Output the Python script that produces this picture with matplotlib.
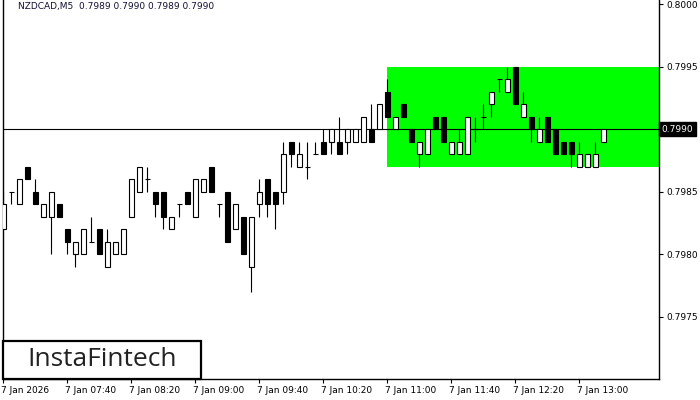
import matplotlib
matplotlib.use("Agg")
import matplotlib.pyplot as plt
from matplotlib.patches import Rectangle
import matplotlib.transforms as mtransforms

## NZDCAD M5 candles, 07:00 .. 13:15
opens = [0.7982, 0.7985, 0.7984, 0.7987, 0.7985, 0.7983, 0.7983, 0.7984, 0.7982, 0.7980,
         0.7980, 0.7981, 0.7982, 0.7979, 0.7980, 0.7980, 0.7983, 0.7985, 0.7986, 0.7985,
         0.7985, 0.7982, 0.7984, 0.7985, 0.7983, 0.7985, 0.7987, 0.7984, 0.7985, 0.7982,
         0.7983, 0.7979, 0.7984, 0.7986, 0.7985, 0.7985, 0.7989, 0.7987, 0.7987, 0.7988,
         0.7989, 0.7989, 0.7989, 0.7989, 0.7989, 0.7989, 0.7990, 0.7990, 0.7993, 0.7990,
         0.7992, 0.7990, 0.7988, 0.7988, 0.7991, 0.7991, 0.7988, 0.7988, 0.7988, 0.7990,
         0.7991, 0.7992, 0.7994, 0.7993, 0.7995, 0.7991, 0.7991, 0.7989, 0.7991, 0.7990,
         0.7989, 0.7989, 0.7987, 0.7987, 0.7987, 0.7989]
highs = [0.7985, 0.7985, 0.7986, 0.7987, 0.7986, 0.7984, 0.7985, 0.7984, 0.7982, 0.7981,
         0.7982, 0.7983, 0.7982, 0.7982, 0.7981, 0.7982, 0.7986, 0.7987, 0.7987, 0.7985,
         0.7985, 0.7983, 0.7984, 0.7985, 0.7986, 0.7986, 0.7987, 0.7984, 0.7985, 0.7984,
         0.7983, 0.7983, 0.7986, 0.7986, 0.7985, 0.7989, 0.7989, 0.7989, 0.7989, 0.7989,
         0.7990, 0.7990, 0.7991, 0.7990, 0.7990, 0.7991, 0.7992, 0.7992, 0.7994, 0.7991,
         0.7992, 0.7990, 0.7989, 0.7990, 0.7991, 0.7991, 0.7989, 0.7990, 0.7991, 0.7991,
         0.7992, 0.7993, 0.7994, 0.7995, 0.7995, 0.7993, 0.7991, 0.7991, 0.7991, 0.7990,
         0.7989, 0.7989, 0.7989, 0.7988, 0.7989, 0.7990]
lows = [0.7982, 0.7984, 0.7984, 0.7986, 0.7984, 0.7983, 0.7980, 0.7983, 0.7980, 0.7979,
        0.7980, 0.7981, 0.7980, 0.7979, 0.7980, 0.7980, 0.7983, 0.7985, 0.7985, 0.7983,
        0.7982, 0.7982, 0.7983, 0.7984, 0.7983, 0.7985, 0.7985, 0.7983, 0.7981, 0.7982,
        0.7980, 0.7977, 0.7983, 0.7983, 0.7982, 0.7984, 0.7987, 0.7987, 0.7986, 0.7988,
        0.7988, 0.7988, 0.7988, 0.7988, 0.7989, 0.7989, 0.7989, 0.7990, 0.7991, 0.7990,
        0.7991, 0.7989, 0.7987, 0.7988, 0.7990, 0.7989, 0.7988, 0.7988, 0.7988, 0.7989,
        0.7990, 0.7991, 0.7993, 0.7993, 0.7992, 0.7991, 0.7989, 0.7989, 0.7989, 0.7988,
        0.7988, 0.7987, 0.7987, 0.7987, 0.7987, 0.7989]
closes = [0.7984, 0.7985, 0.7986, 0.7986, 0.7984, 0.7984, 0.7985, 0.7983, 0.7981, 0.7981,
          0.7982, 0.7981, 0.7980, 0.7981, 0.7981, 0.7982, 0.7986, 0.7987, 0.7986, 0.7984,
          0.7983, 0.7983, 0.7984, 0.7984, 0.7986, 0.7986, 0.7985, 0.7984, 0.7981, 0.7984,
          0.7980, 0.7983, 0.7985, 0.7984, 0.7984, 0.7988, 0.7988, 0.7988, 0.7987, 0.7988,
          0.7988, 0.7990, 0.7988, 0.7990, 0.7990, 0.7991, 0.7989, 0.7992, 0.7991, 0.7991,
          0.7991, 0.7989, 0.7989, 0.7990, 0.7990, 0.7989, 0.7989, 0.7989, 0.7991, 0.7990,
          0.7991, 0.7993, 0.7994, 0.7994, 0.7992, 0.7992, 0.7990, 0.7990, 0.7989, 0.7988,
          0.7988, 0.7988, 0.7988, 0.7988, 0.7988, 0.7990]

tick_bars = [0, 8, 16, 24, 32, 40, 48, 56, 64, 72]
tick_labels = ['7 Jan 2026', '7 Jan 07:40', '7 Jan 08:20', '7 Jan 09:00', '7 Jan 09:40',
               '7 Jan 10:20', '7 Jan 11:00', '7 Jan 11:40', '7 Jan 12:20', '7 Jan 13:00']
price_ticks = [0.7975, 0.7980, 0.7985, 0.7990, 0.7995, 0.8000]

# pattern rectangle and current price
box_start = 48
box_low, box_high = 0.7987, 0.7995
last_price = 0.7990
header = 'NZDCAD,M5  0.7989 0.7990 0.7989 0.7990'

plt.rcParams['font.family'] = ['DejaVu Sans']
fig = plt.figure(figsize=(7, 4), dpi=100)
ax = fig.add_axes([2.5 / 700, 21 / 400, 656.5 / 700, 379 / 400])
ax.set_xlim(-0.1, 81.95)
ax.set_ylim(0.797, 0.800032)

ax.add_patch(Rectangle((box_start, box_low), 100, box_high - box_low,
                       facecolor='#00ff00', edgecolor='none', zorder=1))
ax.axhline(last_price, color='black', lw=0.8, zorder=2)

n = len(opens)
xs = list(range(n))
ax.vlines(xs, lows, highs, color='black', lw=0.8, zorder=3)
w = 0.6
for i in xs:
    o, c = opens[i], closes[i]
    if o == c:
        ax.hlines(o, i - w / 2, i + w / 2, color='black', lw=0.8, zorder=4)
        continue
    fc = 'white' if c > o else 'black'
    ax.bar(i, abs(c - o), bottom=min(o, c), width=w, facecolor=fc,
           edgecolor='black', linewidth=0.8, zorder=4)

ax.spines['top'].set_visible(False)
for s in ['left', 'right', 'bottom']:
    ax.spines[s].set_linewidth(1.0)

# the 0.7990 tick is covered by the price tag, so its own label is left blank
ax.yaxis.tick_right()
ax.set_yticks(price_ticks)
ax.set_yticklabels(['' if p == last_price else '%.4f' % p for p in price_ticks])
ax.tick_params(axis='y', direction='out', length=3, width=0.8, pad=2, labelsize=6.5)
ax.set_xticks(tick_bars)
ax.set_xticklabels(tick_labels, ha='left')
ax.tick_params(axis='x', direction='out', length=3, width=0.8, pad=2, labelsize=6.5)
for lbl in ax.get_xticklabels():
    lbl.set_transform(lbl.get_transform() + mtransforms.ScaledTranslation(-2 / 100, 0, fig.dpi_scale_trans))

# current price tag
trans = mtransforms.blended_transform_factory(ax.transAxes, ax.transData)
ax.text(1.004, last_price, '%.4f' % last_price, transform=trans, ha='left', va='center',
        color='white', fontsize=6.5, zorder=10, clip_on=False,
        bbox=dict(boxstyle='square,pad=0.25', facecolor='black', edgecolor='black'))

fig.text(18 / 700, 1 - 7 / 400, header, ha='left', va='center', fontsize=6.5, color='#101030')

# logo
fig.patches.append(Rectangle((3 / 700, 21 / 400), 198 / 700, 38 / 400, transform=fig.transFigure,
                             facecolor='white', edgecolor='black', linewidth=1.6, zorder=5))
fig.text(102 / 700, 40 / 400, 'InstaFintech', ha='center', va='center', fontsize=19,
         family='Open Sans', color='#222222', zorder=6)

fig.savefig('out.png', dpi=100)
